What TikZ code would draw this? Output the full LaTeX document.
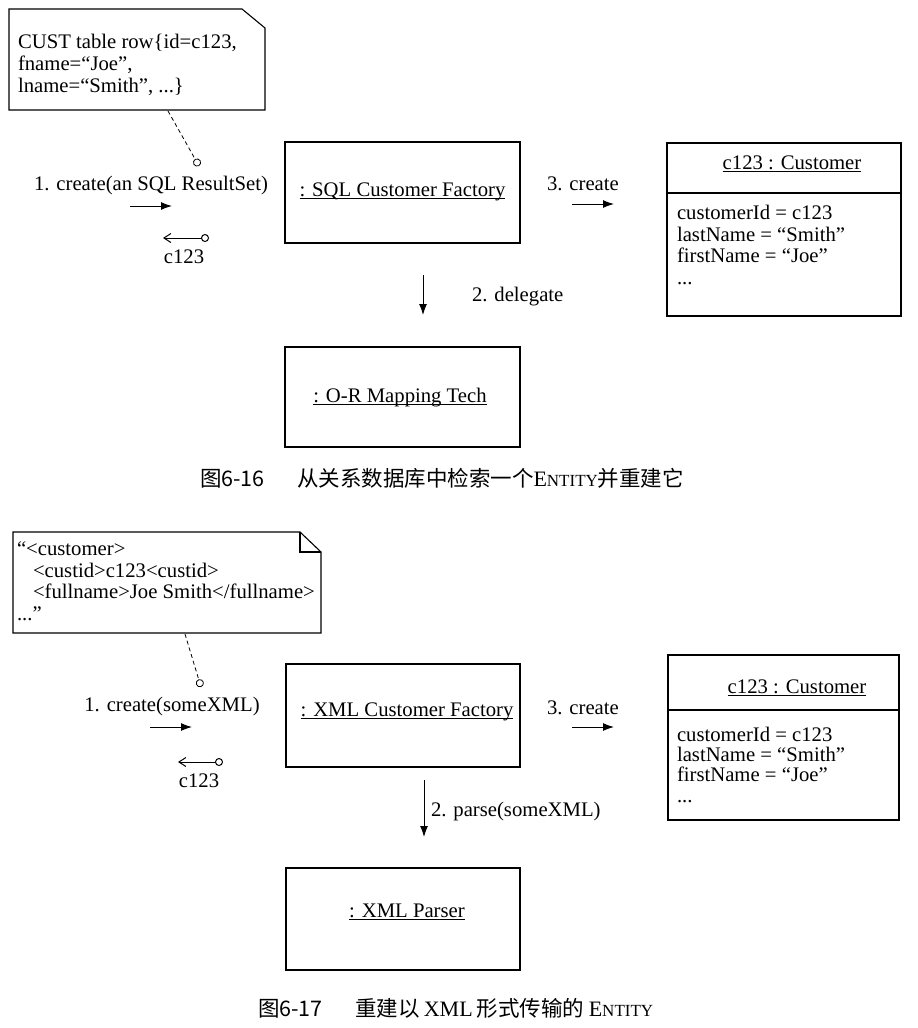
\documentclass[tikz,border=0pt]{standalone}
\usepackage{fontspec}
\setmainfont{Liberation Serif}
\newfontfamily\cjk{Noto Sans CJK SC}
\usetikzlibrary{arrows.meta}
\newcommand{\myul}[1]{{\setbox0\hbox{#1}\rlap{\rule[-3.2pt]{\wd0}{1pt}}\box0}}
\newcommand{\entity}{{\fontsize{22}{22}\selectfont E\fontsize{17}{17}\selectfont NTITY}}
\begin{document}
\begin{tikzpicture}[x=1pt,y=-1pt,
  every node/.style={inner sep=0pt, outer sep=0pt},
  txt/.style={font=\fontsize{20.7}{22}\selectfont},
  captxt/.style={font=\fontsize{21.5}{22}\selectfont},
  objbox/.style={draw, line width=1.1pt, rectangle, inner sep=0pt},
  notebox/.style={line width=1.1pt},
  callarrow/.style={line width=1pt, -{Latex[length=11pt,width=8pt]}},
  retarrow/.style={line width=1pt, {Straight Barb[length=7pt,width=9pt]}-{Circle[open,length=8pt,width=8pt]}},
  anchorline/.style={dashed, dash pattern=on 4pt off 3pt, line width=0.8pt, -{Circle[open,length=8pt,width=8pt]}},
]
\useasboundingbox (0,0) rectangle (918,1028);

% ================= Figure 6-16 =================
% note
\draw[notebox] (9,9) -- (242,9) -- (265,28) -- (265,110) -- (9,110) -- cycle;
\node[txt, anchor=base west] (n1l1) at (18,48) {CUST table row\{id=c123,};
\node[txt, anchor=base west] (n1l2) at (18,70) {fname=“Joe”,};
\node[txt, anchor=base west] (n1l3) at (18,92) {lname=“Smith”, ...\}};
\coordinate (n1a) at (168,111);
\coordinate (n1b) at (199,166);
\draw[anchorline] (n1a) -- (n1b);

% messages into factory
\node[txt, anchor=base] (m1) at (151,190) {1. create(an SQL ResultSet)};
\coordinate (m1s) at (130,206);
\coordinate (m1e) at (172,206);
\draw[callarrow] (m1s) -- (m1e);
\coordinate (r1t) at (163,238);
\coordinate (r1e) at (209,238);
\draw[retarrow] (r1t) -- (r1e);
\node[txt, anchor=base] (r1) at (184,263) {c123};

% factory
\node[objbox, minimum width=235pt, minimum height=101pt] (sqlf) at (402.5,192.5) {};
\node[txt, anchor=base] (sqlfl) at (402.5,196) {\myul{: SQL Customer Factory}};

% create customer
\node[txt, anchor=base west] (m3) at (547,190) {3. create};
\coordinate (m3s) at (572,204);
\coordinate (m3e) at (614,204);
\draw[callarrow] (m3s) -- (m3e);

% customer
\node[objbox, minimum width=234pt, minimum height=173pt] (cust1) at (784,229.5) {};
\draw[line width=1.1pt] (cust1.west |- 0,193) -- (cust1.east |- 0,193);
\node[txt, anchor=base] (c1t) at (792,169) {\myul{c123 : Customer}};
\node[txt, anchor=base west] (c1a) at (677,219) {customerId = c123};
\node[txt, anchor=base west] (c1b) at (677,241) {lastName = “Smith”};
\node[txt, anchor=base west] (c1c) at (677,262) {firstName = “Joe”};
\node[txt, anchor=base west] (c1d) at (677,284) {...};

% delegate
\coordinate (m2s) at (423,275);
\coordinate (m2e) at (423,315);
\draw[callarrow] (m2s) -- (m2e);
\node[txt, anchor=base west] (m2) at (472,301) {2. delegate};

% O-R mapping
\node[objbox, minimum width=235pt, minimum height=100pt] (orm) at (402.5,397) {};
\node[txt, anchor=base] (orml) at (400,402) {\myul{: O-R Mapping Tech}};

% caption
\node[captxt, anchor=base west] (cap1) at (200,486) {{\cjk 图6-16}\hspace{1.5em}{\cjk 从关系数据库中检索一个}\entity{\cjk 并重建它}};

% ================= Figure 6-17 =================
\draw[notebox] (13,532) -- (300,532) -- (321,552) -- (321,633) -- (13,633) -- cycle;
\draw[notebox] (300,532) -- (300,552) -- (321,552);
\node[txt, anchor=base west] (n2l1) at (17,555) {“<customer>};
\node[txt, anchor=base west] (n2l2) at (33,577) {<custid>c123<custid>};
\node[txt, anchor=base west] (n2l3) at (33,598) {<fullname>Joe Smith</fullname>};
\node[txt, anchor=base west] (n2l4) at (17,620) {...”};
\coordinate (n2a) at (185,634);
\coordinate (n2b) at (201,687);
\draw[anchorline] (n2a) -- (n2b);

\node[txt, anchor=base] (p1) at (172,711) {1. create(someXML)};
\coordinate (p1s) at (150,727);
\coordinate (p1e) at (192,727);
\draw[callarrow] (p1s) -- (p1e);
\coordinate (q1t) at (178,762);
\coordinate (q1e) at (223,762);
\draw[retarrow] (q1t) -- (q1e);
\node[txt, anchor=base] (q1) at (199,787) {c123};

\node[objbox, minimum width=234pt, minimum height=103pt] (xmlf) at (403,715.5) {};
\node[txt, anchor=base] (xmlfl) at (407,716) {\myul{: XML Customer Factory}};

\node[txt, anchor=base west] (p3) at (547,714) {3. create};
\coordinate (p3s) at (572,727);
\coordinate (p3e) at (614,727);
\draw[callarrow] (p3s) -- (p3e);

\node[objbox, minimum width=231pt, minimum height=165pt] (cust2) at (783.5,737.5) {};
\draw[line width=1.1pt] (cust2.west |- 0,710) -- (cust2.east |- 0,710);
\node[txt, anchor=base] (c2t) at (797,693) {\myul{c123 : Customer}};
\node[txt, anchor=base west] (c2a) at (677,741) {customerId = c123};
\node[txt, anchor=base west] (c2b) at (677,761) {lastName = “Smith”};
\node[txt, anchor=base west] (c2c) at (677,781) {firstName = “Joe”};
\node[txt, anchor=base west] (c2d) at (677,802) {...};

\coordinate (p2s) at (424,780);
\coordinate (p2e) at (424,837);
\draw[callarrow] (p2s) -- (p2e);
\node[txt, anchor=base west] (p2) at (431,816) {2. parse(someXML)};

\node[objbox, minimum width=234pt, minimum height=102pt] (xmlp) at (403,919) {};
\node[txt, anchor=base] (xmlpl) at (407,917) {\myul{: XML Parser}};

\node[captxt, anchor=base west] (cap2) at (258,1016) {{\cjk 图6-17}\hspace{1.5em}{\cjk 重建以}\hspace{0.2em}{\fontsize{22}{22}\selectfont XML}\hspace{0.2em}{\cjk 形式传输的}\hspace{0.2em}\entity};

\end{tikzpicture}
\end{document}
